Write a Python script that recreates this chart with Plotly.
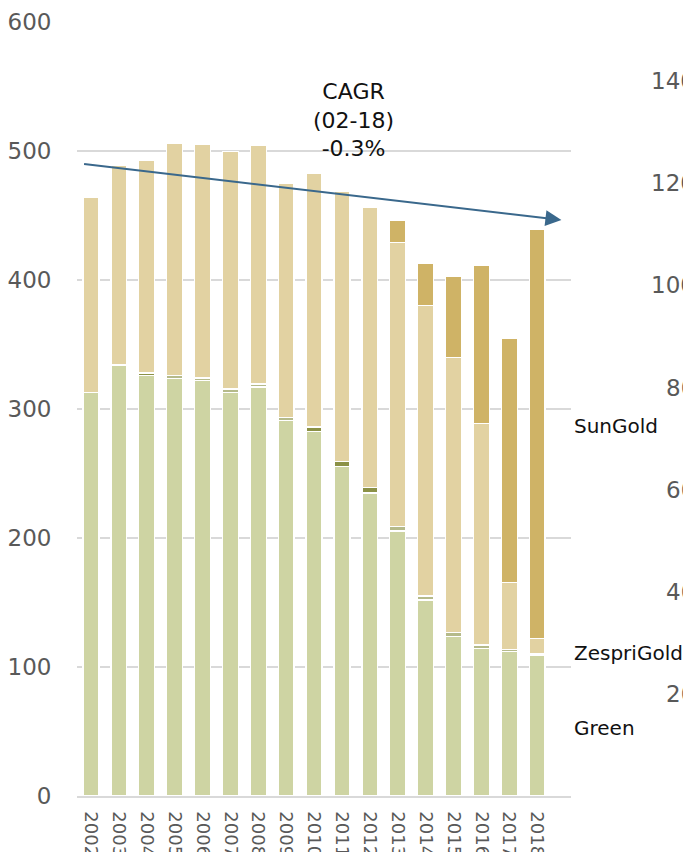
import plotly.graph_objects as go

YEARS = [str(y) for y in range(2002, 2019)]

GREEN = [313, 334, 326, 323.5, 322, 313, 317, 291, 282.5, 255.5, 235, 205.5, 152, 123.5, 114.5, 112, 109]
ORGANIC_LIGHT = [0, 0, 0, 2.5, 2, 2.5, 2.5, 2.5, 0, 0, 0, 3.5, 3, 3.5, 2.5, 1.5, 1]
ORGANIC_DARK = [0, 0, 2, 0, 0, 0, 0, 0, 3.5, 4, 4, 0, 0, 0, 0, 0, 0]
ZESPRIGOLD = [151, 155, 165, 180, 181.5, 184, 184.5, 181.5, 197, 209, 217, 220, 225.5, 213, 172, 52, 12]
SUNGOLD = [0, 0, 0, 0, 0, 0, 0, 0, 0, 0, 0, 17, 32.5, 62.5, 122, 189.5, 317.5]

Y_TICKS = [0, 100, 200, 300, 400, 500, 600]
RIGHT_TICKS = [20, 40, 60, 80, 100, 120, 140]

CAGR_TEXT = "CAGR<br>(02-18)<br>-0.3%"
TREND_START = (-0.3, 490)
TREND_END = (16.87, 446.5)

LABELS = [("SunGold", 287), ("ZespriGold", 111), ("Green", 53)]

FONT = "DejaVu Sans"
GRAY = "#595959"

series = [
    ("Green", GREEN, "#ced4a3"),
    ("Organic Green", ORGANIC_LIGHT, "#b5ba8a"),
    ("Organic Gold", ORGANIC_DARK, "#8b9146"),
    ("ZespriGold", ZESPRIGOLD, "#e2d2a2"),
    ("SunGold", SUNGOLD, "#cfb366"),
]

fig = go.Figure()
for name, vals, col in series:
    fig.add_trace(go.Bar(
        x=YEARS, y=vals, name=name,
        marker=dict(color=col, line=dict(color="white", width=1.3)),
    ))

annotations = []
annotations.append(dict(
    x=9.42, y=524, xref="x", yref="y", text=CAGR_TEXT, showarrow=False,
    font=dict(family=FONT, size=22, color="#111111"), align="center",
))
annotations.append(dict(
    x=TREND_END[0], y=TREND_END[1], ax=TREND_START[0], ay=TREND_START[1],
    xref="x", yref="y", axref="x", ayref="y", text="", showarrow=True,
    arrowhead=2, arrowsize=1.6, arrowwidth=2, arrowcolor="#3a688c", standoff=0,
))
for txt, yv in LABELS:
    annotations.append(dict(
        x=1.002, y=yv, xref="paper", yref="y", text=txt, showarrow=False,
        xanchor="left", yanchor="middle",
        font=dict(family=FONT, size=20, color="#111111"),
    ))
for v in RIGHT_TICKS:
    annotations.append(dict(
        x=1.256, y=v, xref="paper", yref="y2", text=str(v), showarrow=False,
        xanchor="right", yanchor="middle",
        font=dict(family=FONT, size=23, color=GRAY),
    ))

fig.update_layout(
    width=683, height=844, autosize=False,
    barmode="stack", bargap=0.43, showlegend=False,
    plot_bgcolor="white", paper_bgcolor="white",
    margin=dict(l=69, r=120, t=14, b=56),
    font=dict(family=FONT, size=22, color=GRAY),
    xaxis=dict(
        type="category", tickangle=90, showgrid=False, automargin=False,
        tickmode="array", tickvals=YEARS, ticktext=YEARS,
        showline=True, linecolor="#d9d9d9", linewidth=1.5,
        ticks="outside", ticklen=10, tickcolor="rgba(0,0,0,0)",
        tickfont=dict(family=FONT, size=18, color=GRAY),
    ),
    yaxis=dict(
        range=[0, 600], tickvals=Y_TICKS, showgrid=True, automargin=False,
        gridcolor="#d9d9d9", gridwidth=1.5, zeroline=False,
        ticks="outside", ticklen=20, tickcolor="rgba(0,0,0,0)",
        tickfont=dict(family=FONT, size=23, color=GRAY),
    ),
    yaxis2=dict(range=[0, 151.6], overlaying="y", visible=False),
    annotations=annotations,
)

fig.write_html("out.html")
